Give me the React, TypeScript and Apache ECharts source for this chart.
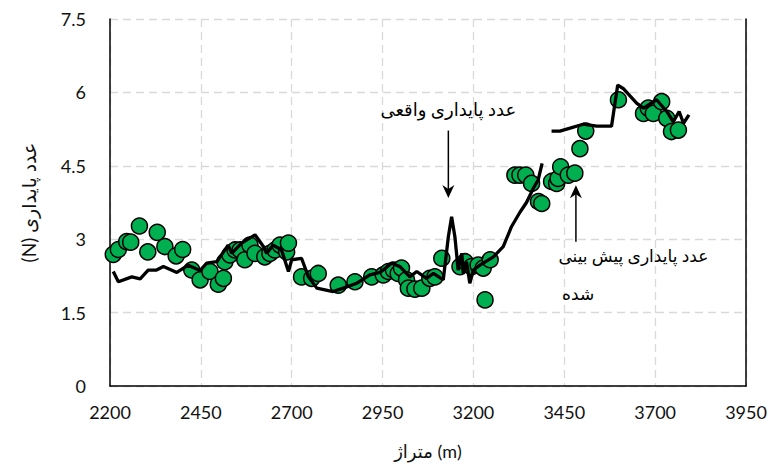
import React, { useEffect, useRef } from "react";
import * as echarts from "echarts";

// Actual stability number (black line); null = gap
const lineX = [2209, 2223, 2260, 2283, 2305, 2328, 2347, 2384, 2415, 2448, 2466, 2494, 2525, 2535, 2562, 2599, 2622, 2631, 2649, 2672, 2691, 2700, 2727, 2746, 2769, 2814, 2842, 2879, 2915, 2943, 2975, 2998, 3025, 3044, 3071, 3090, 3117, 3131, 3140, 3149, 3158, 3168, 3172, 3181, 3190, 3200, 3218, 3255, 3282, 3305, 3328, 3346, 3365, 3378, 3389, 3400, 3415, 3438, 3466, 3502, 3539, 3580, 3597, 3612, 3649, 3668, 3704, 3732, 3750, 3766, 3778, 3793];
const lineY = [2.34, 2.13, 2.23, 2.19, 2.37, 2.37, 2.44, 2.32, 2.47, 2.36, 2.51, 2.54, 2.88, 2.71, 2.92, 3.09, 2.85, 2.71, 2.88, 2.78, 2.34, 2.58, 2.61, 2.23, 2.0, 1.93, 2.0, 2.1, 2.27, 2.32, 2.51, 2.44, 2.23, 2.34, 2.2, 2.3, 2.17, 3.05, 3.46, 3.05, 2.37, 2.71, 2.3, 2.54, 2.1, 2.37, 2.47, 2.64, 2.85, 3.26, 3.55, 3.75, 4.04, 4.21, 4.55, null, 5.21, 5.21, 5.27, 5.35, 5.31, 5.31, 6.15, 6.08, 5.78, 5.68, 5.85, 5.61, 5.4, 5.61, 5.37, 5.54];

// Predicted stability number (green circles)
const predX = [2209, 2223, 2246, 2257, 2281, 2304, 2330, 2351, 2382, 2400, 2425, 2448, 2475, 2498, 2512, 2516, 2530, 2544, 2558, 2571, 2585, 2599, 2626, 2640, 2654, 2668, 2686, 2691, 2727, 2755, 2773, 2828, 2874, 2920, 2952, 2966, 2980, 2993, 3002, 3016, 3021, 3039, 3058, 3080, 3094, 3113, 3163, 3177, 3195, 3213, 3227, 3232, 3246, 3314, 3328, 3344, 3360, 3379, 3388, 3415, 3429, 3433, 3440, 3461, 3479, 3493, 3509, 3599, 3668, 3681, 3695, 3718, 3732, 3745, 3764];
const predY = [2.69, 2.79, 2.95, 2.94, 3.27, 2.74, 3.14, 2.85, 2.66, 2.79, 2.37, 2.17, 2.34, 2.08, 2.2, 2.54, 2.68, 2.78, 2.78, 2.58, 2.88, 2.71, 2.64, 2.71, 2.78, 2.88, 2.74, 2.92, 2.23, 2.2, 2.3, 2.06, 2.13, 2.23, 2.27, 2.34, 2.37, 2.3, 2.41, 2.17, 2.0, 1.98, 2.0, 2.2, 2.23, 2.61, 2.44, 2.54, 2.44, 2.47, 2.41, 1.76, 2.58, 4.31, 4.31, 4.31, 4.14, 3.77, 3.73, 4.18, 4.14, 4.24, 4.48, 4.31, 4.35, 4.85, 5.21, 5.85, 5.57, 5.68, 5.57, 5.81, 5.47, 5.2, 5.23];

const xName = "متراژ (m)";
const yName = "(N) عدد پایداری";
const actualLabel = "عدد پایداری واقعی";
const predLabel1 = "عدد پایداری پیش بینی";
const predLabel2 = "شده";

const numFont = "Lato, 'Open Sans', 'DejaVu Sans', sans-serif";
const faFont = "'Times New Roman', 'Liberation Serif', 'DejaVu Sans', serif";

export default function App() {
  const ref = useRef<HTMLDivElement>(null);
  useEffect(() => {
    if (!ref.current) return;
    const chart = echarts.init(ref.current, null, { renderer: "svg" });
    const lineData = lineX.map((x, i) => [x, lineY[i]]);
    const predData = predX.map((x, i) => [x, predY[i]]);
    chart.setOption({
      animation: false,
      backgroundColor: "#fff",
      grid: { left: 110, right: 24, top: 19, bottom: 84, containLabel: false },
      xAxis: {
        type: "value",
        min: 2200,
        max: 3950,
        interval: 250,
        name: xName,
        nameLocation: "middle",
        nameGap: 56,
        nameTextStyle: { fontSize: 18, color: "#111", fontFamily: numFont },
        axisLine: { show: true, lineStyle: { color: "#000", width: 1.5 } },
        axisTick: { show: false },
        axisLabel: { fontSize: 18, color: "#111", margin: 17, fontFamily: numFont, formatter: (v: number) => String(v) },
        splitLine: { show: true, lineStyle: { color: "#d9d9d9", type: [8, 5], width: 1.3 } },
      },
      yAxis: [
        {
          type: "value",
          min: 0,
          max: 7.5,
          interval: 1.5,
          name: yName,
          nameLocation: "middle",
          nameGap: 72,
          nameRotate: 90,
          nameTextStyle: { fontSize: 19, color: "#111", fontFamily: numFont },
          axisLine: { show: true, lineStyle: { color: "#000", width: 1.5 } },
          axisTick: { show: false },
          axisLabel: { fontSize: 18, color: "#111", margin: 24, fontFamily: numFont, formatter: (v: number) => String(v) },
          splitLine: { show: true, lineStyle: { color: "#d9d9d9", type: [8, 5], width: 1.3 } },
        },
        {
          type: "value",
          min: 0,
          max: 7.5,
          interval: 1.5,
          position: "right",
          axisLine: { show: true, lineStyle: { color: "#000", width: 1.5 } },
          axisTick: { show: false },
          axisLabel: { show: false },
          splitLine: { show: false },
        },
      ],
      series: [
        {
          type: "scatter",
          data: predData,
          symbol: "circle",
          symbolSize: 16,
          itemStyle: { color: "#00b050", borderColor: "#000", borderWidth: 1.5, opacity: 1 },
          z: 2,
        },
        {
          type: "line",
          data: lineData,
          showSymbol: false,
          connectNulls: false,
          lineStyle: { color: "#000", width: 3.3 },
          z: 3,
        },
      ],
    });

    const p = (x: number, y: number) => chart.convertToPixel({ gridIndex: 0 }, [x, y]) as number[];
    const a1Top = p(3131, 5.22);
    const a1Tip = p(3131, 3.84);
    const t1 = p(3131, 5.65);
    const a2Tip = p(3482, 4.1);
    const a2Bot = p(3482, 2.95);
    const t2 = p(3640, 2.64);
    const t3 = p(3488, 1.86);
    const head = (tx: number, ty: number, dir: number) => ({
      type: "polygon",
      shape: {
        points: [
          [tx, ty],
          [tx - 6, ty - 13 * dir],
          [tx, ty - 9 * dir],
          [tx + 6, ty - 13 * dir],
        ],
      },
      style: { fill: "#000" },
      z: 10,
    });
    chart.setOption({
      graphic: [
        {
          type: "line",
          shape: { x1: a1Top[0], y1: a1Top[1], x2: a1Tip[0], y2: a1Tip[1] - 6 },
          style: { stroke: "#000", lineWidth: 1.5 },
          z: 10,
        },
        head(a1Tip[0], a1Tip[1], 1),
        {
          type: "line",
          shape: { x1: a2Bot[0], y1: a2Bot[1], x2: a2Tip[0], y2: a2Tip[1] + 6 },
          style: { stroke: "#000", lineWidth: 1.5 },
          z: 10,
        },
        head(a2Tip[0], a2Tip[1], -1),
        {
          type: "text",
          x: t1[0],
          y: t1[1],
          style: { text: actualLabel, fontSize: 18, fill: "#000", fontFamily: faFont, align: "center", verticalAlign: "middle" },
          z: 10,
        },
        {
          type: "text",
          x: t2[0],
          y: t2[1],
          style: { text: predLabel1, fontSize: 17, fill: "#000", fontFamily: faFont, align: "center", verticalAlign: "middle" },
          z: 10,
        },
        {
          type: "text",
          x: t3[0],
          y: t3[1],
          style: { text: predLabel2, fontSize: 17, fill: "#000", fontFamily: faFont, align: "center", verticalAlign: "middle" },
          z: 10,
        },
      ],
    });
    return () => chart.dispose();
  }, []);
  return <div ref={ref} style={{ position: "fixed", left: 0, top: 0, width: 770, height: 470 }} />;
}
